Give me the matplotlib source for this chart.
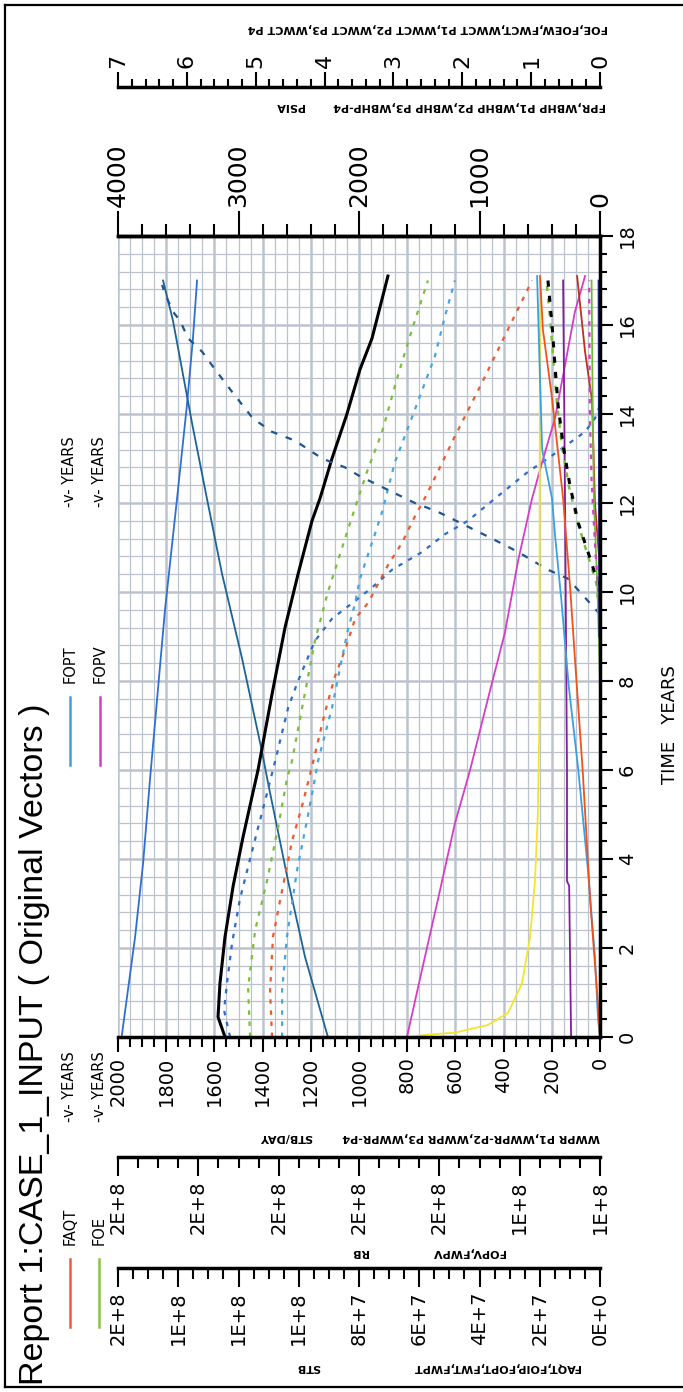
import matplotlib
matplotlib.use("Agg")
import matplotlib.pyplot as plt
from matplotlib.lines import Line2D
from matplotlib.ticker import MultipleLocator, FixedLocator, FixedFormatter

# Serie de datos (tiempo en años, valor en la escala 0-2000)
t_azul = [0, 2.25, 3.9, 5.8, 7.7, 9.6, 12.1, 14.2, 15.7, 17.0]
v_azul = [1985, 1929, 1896, 1867, 1836, 1805, 1755, 1714, 1689, 1672]

t_teal = [0, 1.8, 3.5, 5.7, 6.4, 8.5, 10.4, 12.1, 13.8, 16.1, 17.0]
v_teal = [1129, 1224, 1294, 1377, 1402, 1485, 1568, 1631, 1693, 1772, 1813]

t_negro = [0, 0.45, 1.2, 2.25, 3.4, 4.5, 5.4, 6.0, 7.7, 9.2, 10.4, 11.6, 12.1, 13.0, 14.0, 15.0, 15.7, 17.1]
v_negro = [1556, 1585, 1577, 1556, 1522, 1481, 1444, 1419, 1361, 1307, 1253, 1195, 1162, 1112, 1050, 996, 946, 880]

t_azul_pt = [0, 0.6, 1.2, 2.1, 3.1, 4.0, 4.7, 5.3, 6.2, 7.4, 8.0, 8.9, 9.4, 9.8, 10.1, 10.5, 10.9, 11.3, 11.6, 12.1, 12.7, 13.0, 13.6, 13.9, 14.2]
v_azul_pt = [1535, 1560, 1548, 1527, 1494, 1452, 1419, 1390, 1348, 1294, 1253, 1183, 1112, 1016, 946, 863, 738, 643, 548, 436, 299, 216, 62, 21, 0]

t_verde_pt = [0, 1.1, 2.4, 3.5, 4.7, 5.8, 6.2, 7.4, 8.9, 10.0, 11.2, 11.9, 12.7, 13.6, 14.8, 15.9, 17.0]
v_verde_pt = [1452, 1460, 1431, 1382, 1336, 1299, 1278, 1236, 1183, 1129, 1058, 1016, 967, 904, 842, 780, 714]

t_rojo_pt = [0, 1.05, 2.25, 3.3, 4.4, 5.2, 5.9, 7.3, 8.1, 8.7, 9.4, 9.75, 10.6, 11.1, 11.7, 12.2, 13.5, 14.7, 15.9, 17.0]
v_rojo_pt = [1361, 1369, 1357, 1319, 1278, 1236, 1203, 1141, 1100, 1058, 1016, 963, 880, 822, 768, 718, 602, 490, 382, 282]

t_celeste_pt = [0, 1.05, 2.25, 3.75, 5.0, 5.8, 6.2, 7.4, 8.5, 9.15, 9.75, 10.3, 11.3, 11.8, 12.9, 14.1, 15.3, 16.2, 17.0]
v_celeste_pt = [1319, 1319, 1299, 1257, 1211, 1183, 1170, 1112, 1071, 1046, 1016, 996, 934, 904, 852, 768, 685, 643, 602]

t_azul_osc = [9.5, 9.8, 10.3, 10.5, 10.9, 11.2, 11.5, 11.8, 12.0, 12.6, 12.8, 13.0, 13.4, 13.6, 13.9, 14.5, 15.0, 15.4, 15.7, 16.1, 16.3, 16.7, 16.9]
v_azul_osc = [0, 50, 133, 216, 340, 448, 560, 672, 768, 996, 1058, 1153, 1265, 1361, 1440, 1527, 1597, 1651, 1709, 1743, 1772, 1805, 1817]

t_magenta = [0, 1.5, 3.1, 4.8, 6.0, 7.6, 9.1, 10.7, 12.1, 12.9, 13.9, 15.1, 16.3, 17.1]
v_magenta = [801, 739, 672, 602, 539, 465, 394, 340, 282, 241, 187, 145, 104, 62]

t_amarillo = [0, 0.05, 0.1, 0.27, 0.54, 1.2, 2.25, 3.5, 5.0, 7.0, 17.0]
v_amarillo = [790, 720, 600, 465, 382, 324, 290, 270, 258, 252, 249]

t_morado = [0, 3.4, 3.5, 6.0, 12.0, 17.0]
v_morado = [120, 128, 137, 137, 145, 153]

t_celeste = [0, 0.4, 1.8, 3.75, 6.0, 7.9, 9.8, 11.3, 12.1, 13.2, 14.8, 17.1]
v_celeste = [0, 8, 21, 50, 90, 130, 160, 187, 199, 240, 249, 261]

t_naranja = [0, 1.0, 3.0, 6.0, 8.5, 10.1, 12.1, 14.4, 15.9, 17.1]
v_naranja = [0, 12, 40, 72, 104, 124, 153, 200, 237, 249]

t_negro_pt = [9.5, 10.2, 10.9, 11.55, 12.4, 13.3, 14.2, 15.1, 16.0, 17.0]
v_negro_pt = [0, 8, 50, 90, 125, 153, 174, 187, 199, 216]

t_verde_pt2 = [9.3, 10.2, 10.9, 11.6, 12.4, 13.3, 14.2, 15.1, 16.0, 17.0]
v_verde_pt2 = [0, 15, 55, 95, 130, 158, 178, 192, 205, 222]

t_granate = [10.5, 12.0, 14.3, 15.4, 17.1]
v_granate = [0, 21, 33, 62, 95]

t_verde = [8.0, 10.0, 12.0, 14.0, 17.0]
v_verde = [0, 10, 25, 30, 35]

t_magenta_pt = [9.5, 11.0, 12.5, 14.0, 17.0]
v_magenta_pt = [0, 20, 35, 42, 45]

t_marino = [9.0, 17.0]
v_marino = [3, 6]

# Ejes y etiquetas
ticks_tiempo = [0, 2, 4, 6, 8, 10, 12, 14, 16, 18]
ticks_eje1 = [2000, 1800, 1600, 1400, 1200, 1000, 800, 600, 400, 200, 0]
etiq_eje2 = ["2E+8", "2E+8", "2E+8", "2E+8", "2E+8", "1E+8", "1E+8"]
etiq_eje3 = ["2E+8", "1E+8", "1E+8", "1E+8", "8E+7", "6E+7", "4E+7", "2E+7", "0E+0"]
etiq_psia = ["4000", "3000", "2000", "1000", "0"]
etiq_frac = ["7", "6", "5", "4", "3", "2", "1", "0"]

W, H = 683, 1392


def fx(px):
    return px / W


def fy(py):
    return 1 - py / H


fig = plt.figure(figsize=(6.83, 13.92), dpi=100)
fig.patch.set_facecolor("white")

X0, X1, YT, YB = 118, 600, 236, 1037
ax = fig.add_axes([fx(X0), fy(YB), (X1 - X0) / W, (YB - YT) / H])
ax.set_xlim(2000, 0)
ax.set_ylim(0, 18)

# Rejilla
grid_c = "#bdc3ce"
ax.xaxis.set_major_locator(MultipleLocator(200))
ax.xaxis.set_minor_locator(MultipleLocator(50))
ax.yaxis.set_major_locator(FixedLocator(ticks_tiempo))
ax.yaxis.set_minor_locator(MultipleLocator(0.4))
ax.grid(which="major", color=grid_c, lw=1.8, zorder=0)
ax.grid(which="minor", color=grid_c, lw=0.9, zorder=0)
ax.set_axisbelow(True)

# Curvas
lw = 1.3
ax.plot(v_azul, t_azul, color="#2f6fd2", lw=lw)
ax.plot(v_teal, t_teal, color="#1d6396", lw=lw)
ax.plot(v_negro, t_negro, color="black", lw=2.2)
ax.plot(v_azul_pt, t_azul_pt, color="#2d6ccc", lw=1.6, ls=(0, (2, 3)))
ax.plot(v_verde_pt, t_verde_pt, color="#7cbf3e", lw=1.6, ls=(0, (2, 3)))
ax.plot(v_rojo_pt, t_rojo_pt, color="#ee5a2c", lw=1.6, ls=(0, (2, 3)))
ax.plot(v_celeste_pt, t_celeste_pt, color="#46a6e2", lw=1.6, ls=(0, (2, 3)))
ax.plot(v_azul_osc, t_azul_osc, color="#1c5592", lw=1.6, ls=(0, (3, 4)))
ax.plot(v_magenta, t_magenta, color="#d43ec6", lw=lw)
ax.plot(v_amarillo, t_amarillo, color="#f4e52c", lw=lw)
ax.plot(v_morado, t_morado, color="#861c9c", lw=lw)
ax.plot(v_celeste, t_celeste, color="#3aa0e0", lw=lw)
ax.plot(v_naranja, t_naranja, color="#f0521e", lw=lw)
ax.plot(v_verde_pt2, t_verde_pt2, color="#7cbf3e", lw=1.8, ls=(0, (2, 3)))
ax.plot(v_negro_pt, t_negro_pt, color="black", lw=2.2, ls=(1, (2, 3)))
ax.plot(v_granate, t_granate, color="#b8321c", lw=lw)
ax.plot(v_verde, t_verde, color="#74b83a", lw=lw)
ax.plot(v_magenta_pt, t_magenta_pt, color="#d43ec6", lw=1.6, ls=(0, (2, 3)))
ax.plot(v_marino, t_marino, color="#1c2a8c", lw=lw)

# Marco del grafico
ax.spines["left"].set_visible(False)
for s in ["top", "right", "bottom"]:
    ax.spines[s].set_linewidth(2.5)
ax.tick_params(axis="x", which="both", bottom=True, top=False, direction="out",
               width=1.5, labelrotation=90, labelsize=14, pad=3)
ax.tick_params(axis="x", which="major", length=11)
ax.tick_params(axis="x", which="minor", length=7)
ax.xaxis.set_major_formatter(FixedFormatter([str(v) for v in ticks_eje1]))
ax.xaxis.set_major_locator(FixedLocator(ticks_eje1))
ax.yaxis.tick_right()
ax.tick_params(axis="y", which="both", left=False, right=True, direction="out",
               width=1.5, labelrotation=90, labelsize=14, pad=4)
ax.tick_params(axis="y", which="major", length=9)
ax.tick_params(axis="y", which="minor", length=5)
ax.set_yticklabels([str(v) for v in ticks_tiempo], va="center")


def eje_escala(ypx, lim, ticks, etiquetas, menor, lado, fs, mayor_len, menor_len):
    a = fig.add_axes([fx(X0), fy(ypx), (X1 - X0) / W, 1e-5])
    a.set_xlim(*lim)
    a.patch.set_visible(False)
    a.yaxis.set_visible(False)
    for s in a.spines.values():
        s.set_visible(False)
    a.spines[lado].set_visible(True)
    a.spines[lado].set_linewidth(2.5)
    a.xaxis.set_ticks_position(lado)
    a.xaxis.set_label_position(lado)
    a.xaxis.set_major_locator(FixedLocator(ticks))
    a.xaxis.set_major_formatter(FixedFormatter(etiquetas))
    a.xaxis.set_minor_locator(MultipleLocator(menor))
    a.tick_params(axis="x", which="both", direction="out", width=1.5,
                  labelrotation=90, labelsize=fs, pad=3)
    a.tick_params(axis="x", which="major", length=mayor_len)
    a.tick_params(axis="x", which="minor", length=menor_len)
    return a


# Ejes apilados (abajo) y ejes superiores
eje_escala(1157, (2.3e8, 1.1e8), [2.3e8, 2.1e8, 1.9e8, 1.7e8, 1.5e8, 1.3e8, 1.1e8],
           etiq_eje2, 0.05e8, "bottom", 14, 14, 8)
eje_escala(1268, (1.6e8, 0), [1.6e8, 1.4e8, 1.2e8, 1.0e8, 0.8e8, 0.6e8, 0.4e8, 0.2e8, 0],
           etiq_eje3, 0.05e8, "bottom", 14, 14, 8)
eje_escala(YT, (4000, 0), [4000, 3000, 2000, 1000, 0], etiq_psia, 200, "top", 18, 18, 9)
eje_escala(87, (7, 0), [7, 6, 5, 4, 3, 2, 1, 0], etiq_frac, 0.2, "top", 16, 11, 6)

# Textos de ejes (invertidos)
tb = dict(rotation=180, ha="right", va="center", fontsize=8, fontweight="bold")
fig.text(fx(608), fy(28), "FOE,FOEW,FWCT,WWCT P1,WWCT P2,WWCT P3,WWCT P4", **tb)
fig.text(fx(606), fy(106), "FPR,WBHP P1,WBHP P2,WBHP P3,WBHP-P4", **tb)
fig.text(fx(304), fy(106), "PSIA", **tb)
fig.text(fx(600), fy(1137), "WWPR P1,WWPR-P2,WWPR P3,WWPR-P4", **tb)
fig.text(fx(312), fy(1137), "STB/DAY", **tb)
fig.text(fx(505), fy(1252), "FOPV,FWPV", **tb)
fig.text(fx(368), fy(1252), "RB", **tb)
fig.text(fx(580), fy(1367), "FAQT,FOIP,FOPT,FWT,FWPT", **tb)
fig.text(fx(320), fy(1367), "STB", **tb)

# Eje del tiempo
fig.text(fx(670), fy(725), "TIME   YEARS", rotation=90, ha="center", va="center", fontsize=13)

# Titulo
fig.text(fx(35), fy(1385), "Report 1:CASE_1_INPUT ( Original Vectors )", rotation=90,
         ha="center", va="bottom", fontsize=24.5, family="Liberation Sans")

# Leyenda
leyenda = [
    (70, 1327, "#f05a3c", "FAQT", 205),
    (99, 1327, "#86c440", "FOE", 205),
    (70, 765, "#3aa0e0", "FOPT", 258),
    (100, 765, "#d43ec6", "FOPV", 258),
]
for xl, yl, col, nombre, dy in leyenda:
    fig.add_artist(Line2D([fx(xl), fx(xl)], [fy(yl), fy(yl - 68)], color=col, lw=1.8))
    fig.text(fx(xl), fy(yl - 82), nombre, rotation=90, ha="center", va="bottom", fontsize=10.5)
    fig.text(fx(xl), fy(yl - dy), "-v- YEARS", rotation=90, ha="center", va="bottom", fontsize=10.5)

# Marco exterior
for xs, ys in [((5, 5), (5, 1387)), ((5, 683), (5, 5)), ((5, 683), (1387, 1387))]:
    fig.add_artist(Line2D([fx(xs[0]), fx(xs[1])], [fy(ys[0]), fy(ys[1])], color="black", lw=1.6))

fig.savefig("out.png", dpi=100)
